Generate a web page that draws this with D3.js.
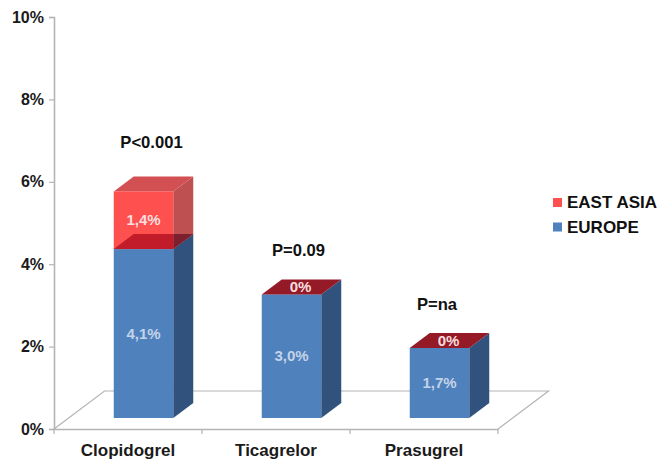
<!DOCTYPE html>
<html>
<head>
<meta charset="utf-8">
<script src="https://cdn.jsdelivr.net/npm/d3@7"></script>
<style>
html,body{margin:0;padding:0;background:#fff}
text{font-family:"Liberation Sans",Arial,sans-serif;font-weight:bold}
</style>
</head>
<body>
<svg id="chart" width="671" height="459"></svg>
<script>
const categories = ["Clopidogrel", "Ticagrelor", "Prasugrel"];
const europe = [4.1, 3.0, 1.7];
const eastAsia = [1.4, 0, 0];
const europeLabels = ["4,1%", "3,0%", "1,7%"];
const eastAsiaLabels = ["1,4%", "0%", "0%"];
const pValues = ["P<0.001", "P=0.09", "P=na"];
const pLevels = [6.97, 4.34, 3.03];
const pShifts = [8, 7, -2.5];
const yTicks = [0, 2, 4, 6, 8, 10];
const legendNames = ["EAST ASIA", "EUROPE"];

const svg = d3.select("#chart");
const x = d3.scaleBand().domain(categories).range([54, 498]);
const y = d3.scaleLinear().domain([0, 10]).range([429, 17]);

// Oblique projection used by the 3D columns and the floor
const depthX = 20, depthY = -15;
const floorX = 50.5, floorY = -38;
const barWidth = 59.5, barShift = 15.5, barLift = 11;

const barLeft = c => x(c) + x.bandwidth() / 2 + barShift - barWidth / 2;
const level = v => y(v) - barLift;
const poly = pts => pts.map(p => p.join(",")).join(" ");

// Floor
const axisGrey = "#b4b4b4";
svg.append("polyline")
  .attr("points", poly([
    [x.range()[0], y(0)],
    [x.range()[0] + floorX, y(0) + floorY],
    [x.range()[1] + floorX, y(0) + floorY],
    [x.range()[1], y(0)]
  ]))
  .attr("fill", "none").attr("stroke", axisGrey).attr("stroke-width", 1.2);

// Value axis
const yAxis = svg.append("g")
  .attr("transform", `translate(${x.range()[0]},0)`)
  .call(d3.axisLeft(y).tickValues(yTicks).tickFormat(d => d + "%").tickSize(5).tickPadding(5));
yAxis.select(".domain").attr("stroke", axisGrey).attr("stroke-width", 1.6);
yAxis.selectAll(".tick line").attr("stroke", axisGrey).attr("stroke-width", 1.2);
yAxis.selectAll(".tick text").attr("font-size", 16).attr("fill", "#1a1a1a")
  .style("font-family", '"Liberation Sans",Arial,sans-serif');

// Category axis
const xAxis = svg.append("g")
  .attr("transform", `translate(0,${y(0)})`)
  .call(d3.axisBottom(x).tickSize(0).tickPadding(15));
xAxis.select(".domain").attr("stroke", axisGrey).attr("stroke-width", 1.6);
xAxis.selectAll(".tick text").attr("font-size", 17).attr("fill", "#1a1a1a")
  .style("font-family", '"Liberation Sans",Arial,sans-serif');
svg.append("g").selectAll("line")
  .data(x.domain().map(c => x(c)).concat(x.range()[1]))
  .join("line")
  .attr("x1", d => d).attr("x2", d => d)
  .attr("y1", y(0)).attr("y2", y(0) + 5)
  .attr("stroke", axisGrey).attr("stroke-width", 1.2);

// Columns: Europe segment first, then the translucent East Asia box over it
categories.forEach((c, i) => {
  const g = svg.append("g");
  const l = barLeft(c), r = l + barWidth;
  const base = level(0), mid = level(europe[i]), top = level(europe[i] + eastAsia[i]);

  g.append("polygon").attr("fill", "#31527c")
    .attr("points", poly([[r, base], [r + depthX, base + depthY], [r + depthX, mid + depthY], [r, mid]]));
  g.append("rect").attr("fill", "#4f81bd")
    .attr("x", l).attr("y", mid).attr("width", barWidth).attr("height", base - mid);

  // Lid of the Europe segment: the red floor of the box sitting on it
  g.append("polygon").attr("fill", eastAsia[i] > 0 ? "#c21c2b" : "#941a28")
    .attr("points", poly([[l, mid], [l + depthX, mid + depthY], [r + depthX, mid + depthY], [r, mid]]));

  if (eastAsia[i] > 0) {
    g.append("polygon").attr("fill", "#bf5052")
      .attr("points", poly([[r, mid], [r + depthX, mid + depthY], [r + depthX, top + depthY], [r, top]]));
    g.append("polygon").attr("fill", "#7c2030")
      .attr("points", poly([[r, mid], [r + depthX, mid + depthY], [r, mid + depthY]]));
    g.append("polygon").attr("fill", "#d24f52")
      .attr("points", poly([[l, top], [l + depthX, top + depthY], [r + depthX, top + depthY], [r, top]]));
    g.append("rect").attr("fill", "#ff5050")
      .attr("x", l).attr("y", top).attr("width", barWidth).attr("height", mid - top);
    // Ledge visible through the front of the translucent box
    g.append("polygon").attr("fill", "#c21c2b")
      .attr("points", poly([[l, mid], [l + depthX, mid + depthY], [r, mid + depthY], [r, mid]]));
  }

  // Value labels
  g.append("text").text(europeLabels[i])
    .attr("x", l + barWidth / 2).attr("y", (base + mid) / 2)
    .attr("dy", "0.35em").attr("text-anchor", "middle")
    .attr("font-size", 15).attr("fill", "#c3d3e8");
  const redY = eastAsia[i] > 0 ? (mid + top) / 2 : mid + depthY / 2;
  g.append("text").text(eastAsiaLabels[i])
    .attr("x", l + barWidth / 2 + (eastAsia[i] > 0 ? 0 : 9)).attr("y", redY)
    .attr("dy", "0.35em").attr("text-anchor", "middle")
    .attr("font-size", 15).attr("fill", "#f8dede");

  // Significance label above each column
  svg.append("text").text(pValues[i])
    .attr("x", l + barWidth / 2 + pShifts[i]).attr("y", y(pLevels[i]))
    .attr("dy", "0.35em").attr("text-anchor", "middle")
    .attr("font-size", 16.6).attr("fill", "#111");
});

// Legend
const legend = svg.append("g").selectAll("g").data(legendNames).join("g")
  .attr("transform", (d, i) => `translate(553,${198 + i * 24.5})`);
legend.append("rect").attr("width", 9).attr("height", 9)
  .attr("fill", (d, i) => i === 0 ? "#ff5050" : "#4f81bd");
legend.append("text").text(d => d).attr("x", 14).attr("y", 4.5).attr("dy", "0.35em")
  .attr("font-size", 17).attr("fill", "#111");
</script>
</body>
</html>
